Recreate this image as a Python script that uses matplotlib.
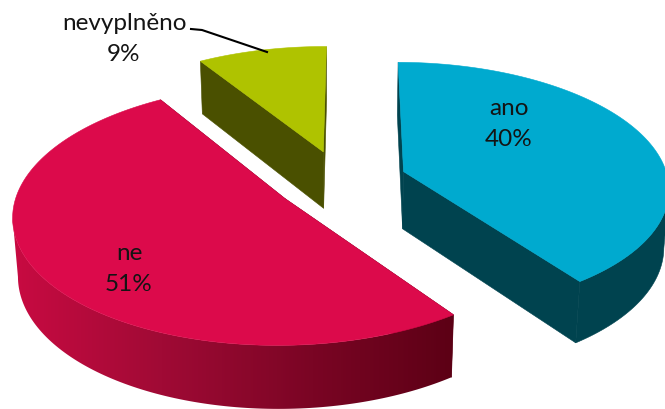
import numpy as np
import matplotlib
matplotlib.use("Agg")
import matplotlib.pyplot as plt
from matplotlib.colors import LinearSegmentedColormap
from matplotlib.patches import Polygon

plt.rcParams["font.family"] = ["Lato", "DejaVu Sans"]

labels = ["ano", "ne", "nevyplněno"]
shares = [40, 51, 9]
top_colors = ["#00AACF", "#DC0A4B", "#AFC300"]
side_colors = ["#00434F", "#5A0014", "#4A5000"]

# camera and pie shape, in units of the pie radius
CX, CY = 341, 181
RADIUS = 265
TILT = 0.47
DIST = 7.36
EXPLODE = 0.25
THICK = 0.25
FIRST_ANGLE = 0.3
SIN_E, COS_E = TILT, np.sqrt(1 - TILT ** 2)

# rim shading of the big slice runs dark to the right
rim_cmap = LinearSegmentedColormap.from_list(
    "rim", ["#C90B42", "#A00A35", "#7A0524", "#5A0014"])


def project(x, y, z):
    depth = DIST + y * COS_E - z * SIN_E
    scale = DIST / depth
    sx = CX + RADIUS * x * scale
    sy = CY - RADIUS * (y * SIN_E + z * COS_E) * scale
    return np.column_stack([sx, sy])


def draw_wedge(ax, start, end, top, side, shaded=False):
    mid = np.radians((start + end) / 2)
    ox, oy = EXPLODE * np.sin(mid), EXPLODE * np.cos(mid)
    th = np.radians(np.linspace(start, end, 181))
    rx, ry = ox + np.sin(th), oy + np.cos(th)
    zero = np.zeros_like(rx)
    rim_top = project(rx, ry, zero)
    rim_bot = project(rx, ry, zero - THICK)
    apex_top = project(np.array([ox]), np.array([oy]), np.array([0.0]))
    apex_bot = project(np.array([ox]), np.array([oy]), np.array([-THICK]))

    # cut faces first, the rim goes over them and the top over everything
    for i in (0, -1):
        face = np.vstack([apex_top, rim_top[i], rim_bot[i], apex_bot])
        ax.add_patch(Polygon(face, fc=side, ec=side, lw=0.4, zorder=2))

    # only the part of the rim that runs right to left faces the viewer
    front = np.flatnonzero(np.diff(rim_bot[:, 0]) < 0)
    if len(front):
        keep = np.arange(front[0], front[-1] + 2)
        rim = np.vstack([rim_top[keep], rim_bot[keep][::-1]])
        if shaded:
            patch = Polygon(rim, fc="none", ec="none", zorder=3)
            ax.add_patch(patch)
            grad = ax.imshow(np.linspace(0, 1, 256)[None, :], cmap=rim_cmap, aspect="auto",
                             extent=(10, 465, 409, 0), zorder=3)
            grad.set_clip_path(patch)
        else:
            ax.add_patch(Polygon(rim, fc=side, ec=side, lw=0.4, zorder=3))
    ax.add_patch(Polygon(np.vstack([apex_top, rim_top]), fc=top, ec=top, lw=0.4, zorder=4))


fig = plt.figure(figsize=(6.65, 4.09), dpi=100)
ax = fig.add_axes([0, 0, 1, 1])

angles = FIRST_ANGLE + np.cumsum([0] + shares) * 3.6
for i in [2, 0, 1]:
    draw_wedge(ax, angles[i], angles[i + 1], top_colors[i], side_colors[i], shaded=(i == 1))

ax.set_xlim(0, 665)
ax.set_ylim(409, 0)
ax.axis("off")

label_pos = [(509, 124), (129, 269), (124, 39)]
for name, val, (x, y) in zip(labels, shares, label_pos):
    ax.text(x, y, f"{name}\n{val}%", ha="center", va="center", fontsize=17.5,
            color="#141414", linespacing=1.6, zorder=6)

# leader line of the small slice
ax.plot([191, 202, 267], [29, 30, 52], color="black", lw=1.5, zorder=5)

fig.savefig("out.png", dpi=100)
